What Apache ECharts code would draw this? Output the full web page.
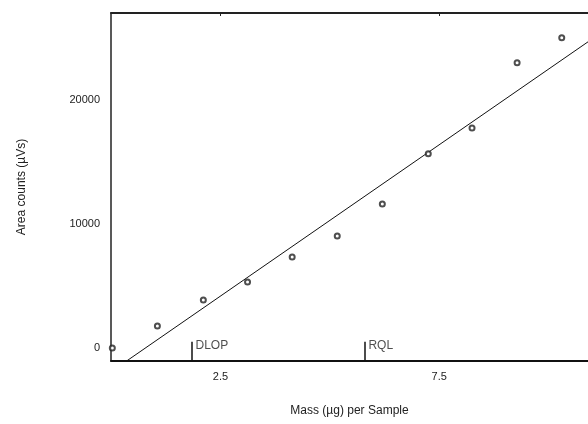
<!DOCTYPE html>
<html>
<head>
<meta charset="utf-8">
<script src="https://cdn.jsdelivr.net/npm/echarts@6/dist/echarts.min.js"></script>
<style>
  html, body { margin: 0; padding: 0; background: #ffffff; }
  #main { width: 588px; height: 424px; }
</style>
</head>
<body>
<div id="main"></div>
<script>
// mass of each sample (µg) and measured area counts (µVs)
const mass = [0.03, 1.06, 2.11, 3.12, 4.14, 5.17, 6.2, 7.25, 8.25, 9.28, 10.3];
const area = [0, 1770, 3870, 5320, 7340, 9030, 11610, 15650, 17740, 22980, 25000];

// fitted calibration line
const fitSlope = 2440;
const fitIntercept = -1920;

// limit markers on the mass axis
const limitNames = ['DLOP', 'RQL'];
const limitMass = [1.84, 5.79];

const xTicks = [2.5, 7.5];
const yTicks = [0, 10000, 20000];

const xMin = 0, xMax = 10.9;
const yMin = -1050, yMax = 27000;

const fitStart = (yMin - fitIntercept) / fitSlope;
const fitLine = [
  [fitStart, yMin],
  [xMax, fitIntercept + fitSlope * xMax]
];

const font = '"Liberation Sans", Arial, sans-serif';

const chart = echarts.init(document.getElementById('main'), null, { renderer: 'canvas' });

chart.setOption({
  animation: false,
  backgroundColor: '#ffffff',
  grid: { left: 111, right: 0, top: 13, bottom: 63 },
  xAxis: [
    {
      type: 'value',
      min: xMin,
      max: xMax,
      name: 'Mass (µg) per Sample',
      nameLocation: 'middle',
      nameGap: 44,
      nameTextStyle: { fontFamily: font, fontSize: 12, color: '#222' },
      axisLine: { onZero: false, lineStyle: { color: '#111', width: 2 } },
      axisTick: { show: false },
      splitLine: { show: false },
      axisLabel: {
        customValues: xTicks,
        formatter: v => String(v),
        fontFamily: font, fontSize: 11, color: '#222', margin: 10
      }
    },
    {
      type: 'value',
      position: 'top',
      min: xMin,
      max: xMax,
      axisLine: { show: true, onZero: false, lineStyle: { color: '#222', width: 2 } },
      axisTick: { show: true, inside: true, length: 3, customValues: xTicks, lineStyle: { color: '#222' } },
      axisLabel: { show: false },
      splitLine: { show: false }
    }
  ],
  yAxis: {
    type: 'value',
    min: yMin,
    max: yMax,
    name: 'Area counts (µVs)',
    nameLocation: 'middle',
    nameGap: 83,
    nameTextStyle: { fontFamily: font, fontSize: 12, color: '#222' },
    axisLine: { show: true, onZero: false, lineStyle: { color: '#222', width: 1.5 } },
    axisTick: { show: false },
    splitLine: { show: false },
    axisLabel: {
      customValues: yTicks,
      formatter: v => String(v),
      fontFamily: font, fontSize: 11, color: '#222', margin: 11
    }
  },
  series: [
    {
      type: 'line',
      data: fitLine,
      showSymbol: false,
      symbol: 'none',
      lineStyle: { color: '#111', width: 1 },
      silent: true
    },
    {
      type: 'scatter',
      data: mass.map((m, i) => [m, area[i]]),
      symbol: 'emptyCircle',
      symbolSize: 5,
      itemStyle: { color: '#222', borderWidth: 1 },
      clip: false,
      z: 5
    },
    {
      type: 'scatter',
      data: limitMass.map((m, i) => ({ value: [m, 160], name: limitNames[i] })),
      symbolSize: 0,
      label: {
        show: true,
        position: 'right',
        distance: 4,
        formatter: p => p.name,
        fontFamily: font,
        fontSize: 12,
        color: '#222'
      },
      markLine: {
        silent: true,
        symbol: 'none',
        label: { show: false },
        lineStyle: { color: '#111', width: 1.5, type: 'solid' },
        data: limitMass.map(m => [{ coord: [m, yMin] }, { coord: [m, 500] }])
      }
    }
  ]
});
</script>
</body>
</html>
